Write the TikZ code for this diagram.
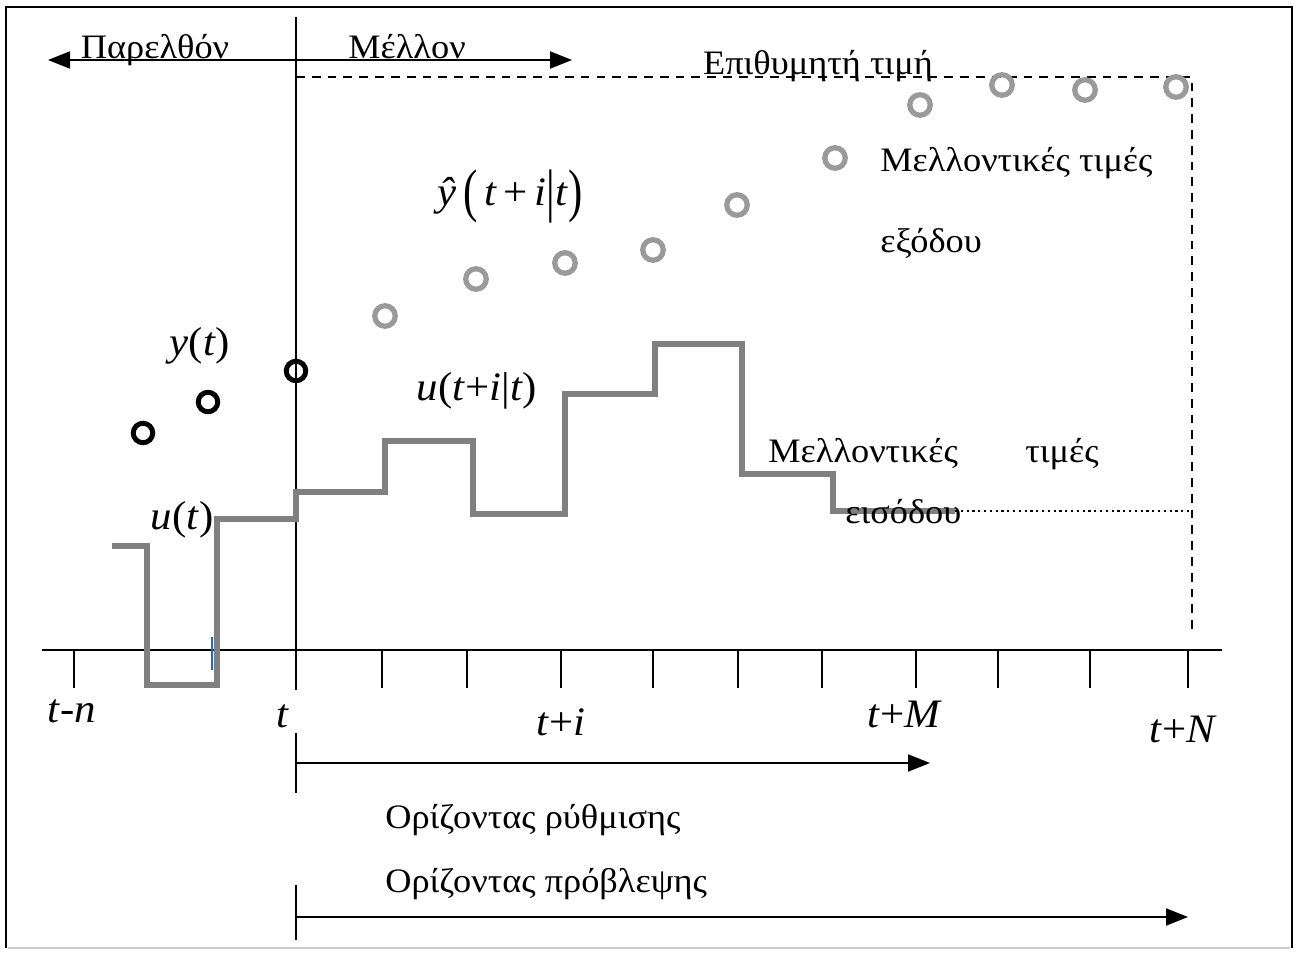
\documentclass[tikz,border=0pt]{standalone}
\usepackage{graphicx}
\usepackage{fontspec}
\setmainfont{Liberation Serif}[FakeStretch=1.06]
\usetikzlibrary{arrows.meta,positioning,calc}
\definecolor{stepgray}{HTML}{808080}
\definecolor{predgray}{HTML}{9A9A9A}
\definecolor{tickblue}{HTML}{1F6FB4}
\newcommand{\iv}[1]{\textit{#1}}
\newcommand{\tallp}[1]{\raisebox{-0.25ex}{\scalebox{1}[1.45]{#1}}}

\begin{document}
\begin{tikzpicture}[x=0.2mm, y=-0.2mm,
        lbl/.style={inner sep=0pt, font=\fontsize{19.5}{21}\selectfont},
        var/.style={inner sep=0pt, font=\fontsize{23}{25}\selectfont},
        pred/.style={circle, draw=predgray, line width=3pt, minimum size=4.1mm, inner sep=0pt},
        meas/.style={circle, draw=black, line width=2.8pt, minimum size=3.9mm, inner sep=0pt},
        arrow/.style={-{Triangle[length=4.4mm, width=3.4mm]}, line width=1.1pt},
        twoway/.style={{Triangle[length=4.4mm, width=3.4mm]}-{Triangle[length=4.4mm, width=3.4mm]}, line width=1.1pt},
        ctrl/.style={draw=stepgray, line width=3.4pt},
        tickmark/.style={line width=1.6pt}
    ]
        \useasboundingbox (0,0) rectangle (1298,953);
        % frame
        \draw[line width=1.2pt] (6,948) -- (6,7) -- (1292,7) -- (1292,948);
        \draw[black!20, line width=1pt] (8,948) -- (1290,948);

        % past / future
        \coordinate (now) at (296,17);
        \coordinate (nowlow) at (296,690);
        \draw[line width=1pt] (now) -- (nowlow);
        \coordinate (pl) at (48,60);
        \coordinate (pr) at (572,60);
        \draw[twoway] (pl) -- (pr);
        \node[lbl, anchor=base] (past) at (155,59) {Παρελθόν};
        \node[lbl, anchor=base] (fut) at (407,59) {Μέλλον};

        % setpoint
        \coordinate (sp0) at (296,77);
        \coordinate (sp1) at (1192,77);
        \coordinate (sp2) at (1192,632);
        \draw[line width=1pt, dash pattern=on 5pt off 4pt] (sp0) -- (sp1) -- (sp2);
        \node[lbl, anchor=base] (setp) at (818,75) {Επιθυμητή τιμή};

        % time axis
        \coordinate (ax0) at (42,650);
        \coordinate (ax1) at (1222,650);
        \draw[tickmark] (ax0) -- (ax1);
        \foreach \x in {74,382,467,561,653,738,822,916,998,1090,1188}
            \draw[tickmark] (\x,650) -- (\x,688);

        % input u
        \draw[ctrl] (112,546) -| (147,685) -| (217,519) -| (296,492) -| (385,441)
            -| (473,514) -| (565,394) -| (655,344) -| (742,474) -| (833,511) -- (955,511);
        \draw[line width=1.3pt, dotted] (955,511) -- (sp2 |- 0,511);
        \draw[tickblue, line width=1.2pt] (212,637) -- (212,670);

        % outputs
        \foreach \x/\y [count=\k] in {143/433, 208/402, 296/371}
            \node[meas] (m\k) at (\x,\y) {};
        \foreach \x/\y [count=\k] in {385/316, 476/279, 565/263, 653/250, 737/205,
                                      835/158, 920/105, 1002/85, 1085/90, 1176/87}
            \node[pred] (p\k) at (\x,\y) {};

        % labels
        \node[var, anchor=base] (yt) at (200,356) {\iv{y}(\iv{t})};
        \node[var, anchor=base] (yhat) at (510,206)
            {\iv{ŷ}\,\tallp{(}\,\iv{t}\,+\,\iv{i}\tallp{|}\iv{t}\tallp{)}};
        \node[var, anchor=base] (ui) at (477,401) {\iv{u}(\iv{t}+\iv{i}|\iv{t})};
        \node[var, anchor=base] (ut) at (182,530) {\iv{u}(\iv{t})};
        \node[lbl, anchor=base west] (yf1) at (880,172) {Μελλοντικές τιμές};
        \node[lbl, anchor=base west] (yf2) at (880,253) {εξόδου};
        \node[lbl, anchor=base west] (uf1) at (768,463) {Μελλοντικές};
        \node[lbl, anchor=base west] (uf2) at (1025,463) {τιμές};
        \node[lbl, anchor=base west] (uf3) at (845,524) {εισόδου};

        % tick labels
        \node[var, anchor=base] (ltn) at (72,722) {\iv{t}-\iv{n}};
        \node[var, anchor=base] (lt) at (283,727) {\iv{t}};
        \node[var, anchor=base] (lti) at (561,735) {\iv{t}+\iv{i}};
        \node[var, anchor=base] (ltm) at (905,727) {\iv{t}+\iv{M}};
        \node[var, anchor=base] (ltn2) at (1183,742) {\iv{t}+\iv{N}};

        % horizons
        \coordinate (c0) at (296,763);
        \coordinate (cm) at (930,763);
        \draw[tickmark] (296,733) -- (296,793);
        \draw[arrow] (c0) -- (cm);
        \node[lbl, anchor=base west] (ch) at (385,828) {Ορίζοντας ρύθμισης};
        \node[lbl, anchor=base west] (ph) at (385,892) {Ορίζοντας πρόβλεψης};
        \coordinate (q0) at (296,917);
        \coordinate (qn) at (1188,917);
        \draw[tickmark] (296,885) -- (296,940);
        \draw[arrow] (q0) -- (qn);
\end{tikzpicture}
\end{document}
